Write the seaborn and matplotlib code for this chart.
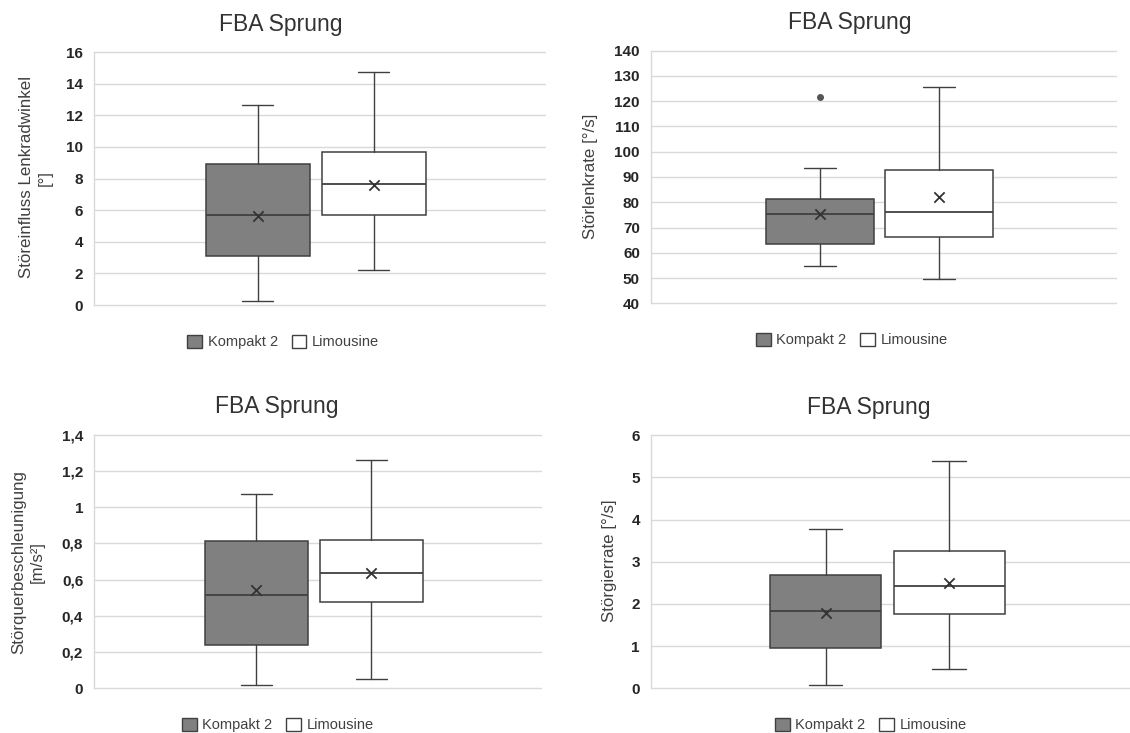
import matplotlib
matplotlib.use("Agg")
import matplotlib.pyplot as plt
from matplotlib.patches import Patch
import seaborn as sns

# ---------------- data ----------------
groups = ["Kompakt 2", "Limousine"]
group_colors = ["#808080", "#ffffff"]

# Panel 1: Störeinfluss Lenkradwinkel [°]
p1_whislo = [0.27, 2.20]
p1_q1 = [3.12, 5.72]
p1_med = [5.72, 7.63]
p1_q3 = [8.93, 9.66]
p1_whishi = [12.62, 14.75]
p1_mean = [5.64, 7.58]
p1_fliers = [[], []]
p1_ticks = [0, 2, 4, 6, 8, 10, 12, 14, 16]
p1_ticklabels = ["0", "2", "4", "6", "8", "10", "12", "14", "16"]

# Panel 2: Störlenkrate [°/s]
p2_whislo = [54.9, 49.8]
p2_q1 = [63.6, 66.4]
p2_med = [75.2, 76.1]
p2_q3 = [81.3, 92.8]
p2_whishi = [93.6, 125.8]
p2_mean = [75.4, 82.2]
p2_fliers = [[121.7], []]
p2_ticks = [40, 50, 60, 70, 80, 90, 100, 110, 120, 130, 140]
p2_ticklabels = ["40", "50", "60", "70", "80", "90", "100", "110", "120", "130", "140"]

# Panel 3: Störquerbeschleunigung [m/s²]
p3_whislo = [0.017, 0.048]
p3_q1 = [0.236, 0.474]
p3_med = [0.515, 0.636]
p3_q3 = [0.812, 0.821]
p3_whishi = [1.072, 1.264]
p3_mean = [0.542, 0.634]
p3_fliers = [[], []]
p3_ticks = [0, 0.2, 0.4, 0.6, 0.8, 1.0, 1.2, 1.4]
p3_ticklabels = ["0", "0,2", "0,4", "0,6", "0,8", "1", "1,2", "1,4"]

# Panel 4: Störgierrate [°/s]
p4_whislo = [0.07, 0.45]
p4_q1 = [0.96, 1.77]
p4_med = [1.83, 2.43]
p4_q3 = [2.69, 3.25]
p4_whishi = [3.77, 5.39]
p4_mean = [1.79, 2.50]
p4_fliers = [[], []]
p4_ticks = [0, 1, 2, 3, 4, 5, 6]
p4_ticklabels = ["0", "1", "2", "3", "4", "5", "6"]

title_text = "FBA Sprung"
ylabels = ["Störeinfluss Lenkradwinkel\n[°]", "Störlenkrate [°/s]",
           "Störquerbeschleunigung\n[m/s²]", "Störgierrate [°/s]"]

# ---------------- style ----------------
sns.set_theme(style="white")
plt.rcParams["font.family"] = ["Liberation Sans", "DejaVu Sans"]

W, H = 1130, 733
fig = plt.figure(figsize=(W / 100, H / 100), dpi=100)

def px_rect(x0, x1, y0, y1):
    return [x0 / W, 1 - y1 / H, (x1 - x0) / W, (y1 - y0) / H]

panels = [
    dict(rect=px_rect(94.3, 545, 52, 305),
         stats=(p1_whislo, p1_q1, p1_med, p1_q3, p1_whishi, p1_mean, p1_fliers),
         ticks=p1_ticks, ticklabels=p1_ticklabels,
         title_xy=(281, 30.7), legend_xy=(283.3, 342), ylabel_xy=(35.8, 177.5)),
    dict(rect=px_rect(651, 1116, 50.7, 303.3),
         stats=(p2_whislo, p2_q1, p2_med, p2_q3, p2_whishi, p2_mean, p2_fliers),
         ticks=p2_ticks, ticklabels=p2_ticklabels,
         title_xy=(849.6, 29.5), legend_xy=(852, 340), ylabel_xy=(590.7, 176)),
    dict(rect=px_rect(94.3, 541, 435, 688),
         stats=(p3_whislo, p3_q1, p3_med, p3_q3, p3_whishi, p3_mean, p3_fliers),
         ticks=p3_ticks, ticklabels=p3_ticklabels,
         title_xy=(276.7, 412.7), legend_xy=(278, 725), ylabel_xy=(28, 561.8)),
    dict(rect=px_rect(651, 1132, 435.3, 688.3),
         stats=(p4_whislo, p4_q1, p4_med, p4_q3, p4_whishi, p4_mean, p4_fliers),
         ticks=p4_ticks, ticklabels=p4_ticklabels,
         title_xy=(869, 414.3), legend_xy=(871, 725), ylabel_xy=(609.7, 561)),
]

line_col = "#404040"
grid_col = "#d9d9d9"
positions = [0, 1]

for i, p in enumerate(panels):
    ax = fig.add_axes(p["rect"])
    wlo, q1, med, q3, whi, mean, fl = p["stats"]
    bstats = []
    for g in range(len(groups)):
        bstats.append(dict(label=groups[g], whislo=wlo[g], q1=q1[g], med=med[g],
                           q3=q3[g], whishi=whi[g], fliers=fl[g]))
    bp = ax.bxp(bstats, positions=positions, widths=0.9, capwidths=0.27,
                patch_artist=True, showfliers=True, manage_ticks=False,
                boxprops=dict(edgecolor=line_col, linewidth=1.1),
                medianprops=dict(color=line_col, linewidth=1.3),
                whiskerprops=dict(color=line_col, linewidth=1.0),
                capprops=dict(color=line_col, linewidth=1.0),
                flierprops=dict(marker="o", markersize=4, markerfacecolor="#555555",
                                markeredgecolor="#555555"))
    for patch, c in zip(bp["boxes"], group_colors):
        patch.set_facecolor(c)
    for artist_list in bp.values():
        for a in artist_list:
            a.set_zorder(3)
    sns.scatterplot(x=positions, y=mean, marker="x", s=55, color="#333333",
                    linewidth=1.3, ax=ax, zorder=5, legend=False)

    ax.set_xlim(-1.412, 2.479)
    ax.set_ylim(p["ticks"][0], p["ticks"][-1])
    ax.set_xticks([])
    ax.set_yticks(p["ticks"])
    ax.set_yticklabels(p["ticklabels"], fontsize=11, fontweight="bold", color="#262626")
    ax.tick_params(axis="y", length=0, pad=8)
    ax.yaxis.grid(True, color=grid_col, linewidth=1.0)
    ax.xaxis.grid(False)
    ax.set_axisbelow(True)
    for s in ["top", "right", "bottom"]:
        ax.spines[s].set_visible(False)
    ax.spines["left"].set_color(grid_col)
    ax.spines["left"].set_linewidth(1.0)
    ax.set_facecolor("white")
    for gl in ax.get_ygridlines():
        gl.set_clip_on(False)

    tx, ty = p["title_xy"]
    fig.text(tx / W, 1 - ty / H, title_text, ha="center", va="baseline",
             fontsize=16.5, color="#333333")
    lx, ly = p["ylabel_xy"]
    fig.text(lx / W, 1 - ly / H, ylabels[i], ha="center", va="center",
             rotation=90, fontsize=12.2, color="#404040", multialignment="center",
             linespacing=1.3)
    handles = [Patch(facecolor=group_colors[g], edgecolor=line_col, linewidth=1.0,
                     label=groups[g]) for g in range(len(groups))]
    gx, gy = p["legend_xy"]
    fig.legend(handles=handles, loc="center", bbox_to_anchor=(gx / W, 1 - gy / H),
               ncol=2, frameon=False, fontsize=10.5, handlelength=1.0,
               handleheight=1.0, handletextpad=0.4, columnspacing=0.95,
               borderpad=0, labelcolor="#404040")

fig.savefig("out.png", dpi=100, facecolor="white")
